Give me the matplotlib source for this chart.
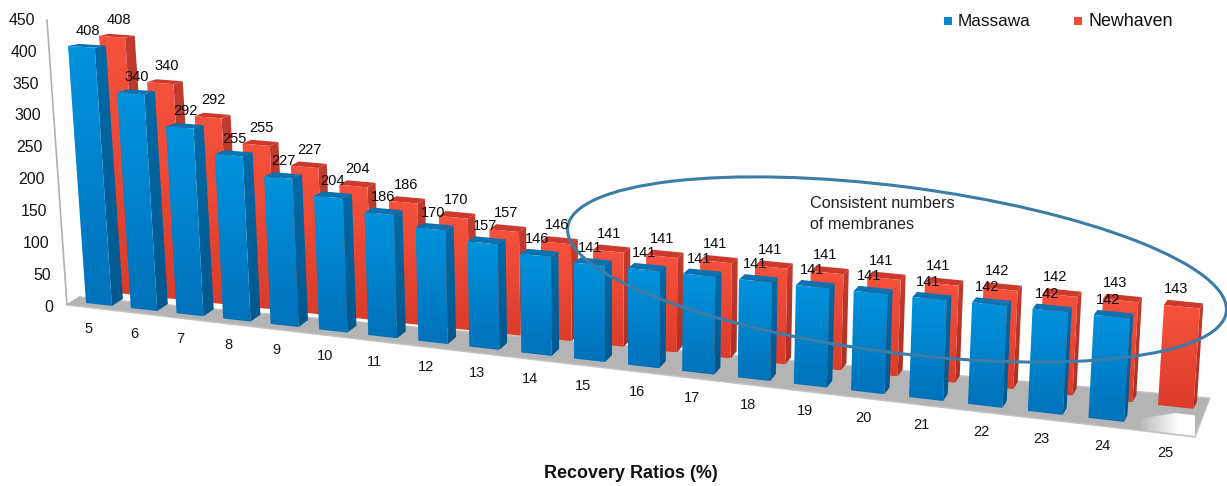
#!/usr/bin/env python3
"""Membrane counts per recovery ratio, drawn as a perspective 3D column chart."""

import numpy as np
import matplotlib
matplotlib.use('Agg')
import matplotlib.pyplot as plt
from matplotlib.colors import LinearSegmentedColormap
from matplotlib.patches import Ellipse, Polygon, Rectangle

plt.rcParams['font.family'] = ['Liberation Sans', 'DejaVu Sans']

recovery = [5, 6, 7, 8, 9, 10, 11, 12, 13, 14, 15, 16, 17, 18, 19, 20, 21, 22, 23, 24, 25]
massawa = [408, 340, 292, 255, 227, 204, 186, 170, 157, 146, 141, 141, 141, 141, 141, 141, 141, 142, 142, 142]
newhaven = [408, 340, 292, 255, 227, 204, 186, 170, 157, 146, 141, 141, 141, 141, 141, 141, 141, 142, 142, 143, 143]
y_ticks = [0, 50, 100, 150, 200, 250, 300, 350, 400, 450]

BAR_W = 0.58  # front face width, in category steps

BLUE = dict(front=('#0093dc', '#0072ba'), side=('#006aa6', '#00588e'), top='#0a72b0')
RED = dict(front=('#f6523e', '#dc3c2a'), side=('#c23c2e', '#ad3125'), top='#cc3a2c')


def base_x(i):
    return 86 + 44.4 * i + 0.44 * i * i


def base_y(i):
    return 303 + 5.0 * i + 0.055 * i * i


def corner(i, value, row):
    """Screen position of a front corner; row 0 is the near row, 1 the far row."""
    x = base_x(i) + row * (31 - 1.15 * i)
    y = base_y(i) + row * (-10 - 0.5 * i)
    scale = 0.63 + (0.0035 if row else 0.005) * i
    h = value * scale
    lean = 0.07 - 0.0065 * i
    return x - lean * h, y - h


def gradient_poly(ax, pts, colors, zorder):
    """Fill a polygon with a vertical colour ramp."""
    xs, ys = zip(*pts)
    cmap = LinearSegmentedColormap.from_list('ramp', colors)
    img = ax.imshow(np.linspace(0, 1, 64)[:, None], cmap=cmap, aspect='auto',
                    extent=(min(xs), max(xs), max(ys), min(ys)), zorder=zorder,
                    interpolation='bilinear')
    img.set_clip_path(Polygon(pts, closed=True, transform=ax.transData))


def draw_column(ax, i, value, row, style, zorder):
    fl_b = corner(i, 0, row)
    fr_b = corner(i + BAR_W, 0, row)
    fl_t = corner(i, value, row)
    fr_t = corner(i + BAR_W, value, row)

    h = fr_b[1] - fr_t[1]
    dx = max((9.5 - 0.3 * i) if row else (11 - 0.4 * i), 3)
    dy_b = -7
    dy_t = -7 + 0.019 * h

    br_b = (fr_b[0] + dx, fr_b[1] + dy_b)
    br_t = (fr_t[0] + dx, fr_t[1] + dy_t)
    bl_t = (fl_t[0] + dx, fl_t[1] + dy_t)

    gradient_poly(ax, [fr_t, br_t, br_b, fr_b], style['side'], zorder)
    ax.add_patch(Polygon([fl_t, fr_t, br_t, bl_t], closed=True, fc=style['top'],
                         ec='none', zorder=zorder + 0.1))
    gradient_poly(ax, [fl_b, fr_b, fr_t, fl_t], style['front'], zorder + 0.2)


fig = plt.figure(figsize=(12.27, 4.86), dpi=100)
ax = fig.add_axes([0, 0, 1, 1])
ax.set_axis_off()

# floor of the chart box, washed out towards the right-hand end
floor = [(67, 305), (80, 297), (1210, 398), (1195, 437)]
ax.add_patch(Polygon(floor, closed=True, fc='#b4b4b4', ec='#c4c4c4', lw=1, zorder=1))
fade = np.ones((2, 64, 4))
fade[..., 3] = np.clip(np.linspace(-0.2, 1.4, 64), 0, 1)
fade_img = ax.imshow(fade, aspect='auto', extent=(1130, 1195, 438, 412), zorder=1.2)
fade_img.set_clip_path(Polygon([(1125, 421), (1175, 413), (1200, 416), (1195, 436), (1125, 428)],
                               closed=True, transform=ax.transData))

# y axis wall edge and tick labels
ax.plot([47, 67, 80], [20, 305, 297], color='#b0b0b0', lw=1.2, zorder=1.5)
for v in y_ticks:
    ax.text(53 - 0.04 * v, 307 - 0.637 * v, str(v), ha='right', va='center',
            fontsize=11.4, color='#151515')

# far row first so the near row covers it
for i, v in enumerate(newhaven):
    draw_column(ax, i, v, 1, RED, 2 + i * 0.01)
for i, v in enumerate(massawa):
    draw_column(ax, i, v, 0, BLUE, 3 + i * 0.01)

for i, v in enumerate(newhaven):
    x, y = corner(i, v, 1)
    ax.text(x + 20 - 0.4 * i, y - 16, str(v), ha='center', va='center',
            fontsize=10.5, color='#0a0a0a', zorder=6)
for i, v in enumerate(massawa):
    x, y = corner(i, v, 0)
    ax.text(x + 20 - 0.3 * i, y - 15, str(v), ha='center', va='center',
            fontsize=10.5, color='#0a0a0a', zorder=6)

for i, r in enumerate(recovery):
    ax.text(base_x(i) + 3 + 0.6 * i, base_y(i) + 26 + 0.1 * i, str(r), ha='center',
            va='center', fontsize=10.5, color='#151515')

ax.text(631, 473, 'Recovery Ratios (%)', ha='center', va='center', fontsize=12.9,
        fontweight='bold', color='#111111')

# legend
ax.add_patch(Rectangle((944, 17), 8, 8, fc='#0086cc', ec='none'))
ax.text(958, 22, 'Massawa', ha='left', va='center', fontsize=12.3, color='#111111')
ax.add_patch(Rectangle((1074, 17), 8, 8, fc='#ee4a38', ec='none'))
ax.text(1088, 22, 'Newhaven', ha='left', va='center', fontsize=12.9, color='#111111')

# callout around the flat part of the series
ax.add_patch(Ellipse((897, 269.5), 664, 166, angle=7.35, fc='none', ec='#3c7da8', lw=2.2, zorder=5))
ax.text(810, 203, 'Consistent numbers', ha='left', va='center', fontsize=11.7, color='#222222', zorder=6)
ax.text(810, 224, 'of membranes', ha='left', va='center', fontsize=11.7, color='#222222', zorder=6)

ax.set_xlim(0, 1227)
ax.set_ylim(486, 0)

fig.savefig('out.png', dpi=100)
